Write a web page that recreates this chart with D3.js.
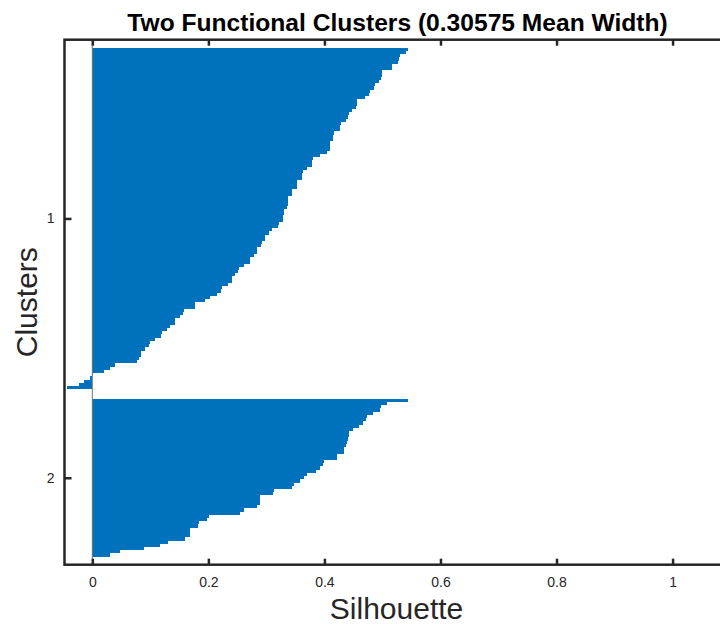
<!DOCTYPE html>
<html>
<head>
<meta charset="utf-8">
<script src="https://cdn.jsdelivr.net/npm/d3@7"></script>
<style>
  html, body { margin: 0; padding: 0; background: #fff; }
  svg { display: block; font-family: "Liberation Sans", Arial, Helvetica, sans-serif; }
</style>
</head>
<body>
<svg id="chart" width="720" height="624"></svg>
<script>
// Silhouette values per cluster, sorted from largest to smallest
const cluster1 = [
  0.544, 0.541, 0.530, 0.528, 0.526, 0.516, 0.516, 0.499, 0.499, 0.498,
  0.494, 0.4875, 0.486, 0.479, 0.476, 0.470, 0.456, 0.456, 0.455, 0.447,
  0.4415, 0.441, 0.4375, 0.428, 0.427, 0.426, 0.4157, 0.4155, 0.415, 0.410,
  0.410, 0.409, 0.404, 0.393, 0.380, 0.379, 0.378, 0.370, 0.363, 0.362,
  0.361, 0.353, 0.3525, 0.352, 0.3445, 0.344, 0.338, 0.338, 0.337, 0.3354,
  0.331, 0.331, 0.3285, 0.328, 0.321, 0.320, 0.3095, 0.304, 0.298, 0.297,
  0.292, 0.291, 0.2837, 0.283, 0.278, 0.272, 0.271, 0.2606, 0.252, 0.251,
  0.246, 0.2407, 0.240, 0.233, 0.223, 0.222, 0.2148, 0.2033, 0.1947, 0.1774,
  0.177, 0.1573, 0.157, 0.1516, 0.143, 0.142, 0.1344, 0.1286, 0.120, 0.119,
  0.1085, 0.0987, 0.098, 0.0913, 0.0844, 0.084, 0.080, 0.077, 0.0396, 0.031,
  0.0195, 0.002, -0.0046, -0.015, -0.0236, -0.0436
];
const cluster2 = [
  0.544, 0.5075, 0.497, 0.496, 0.484, 0.473, 0.472, 0.466, 0.459, 0.450,
  0.443, 0.442, 0.440, 0.439, 0.438, 0.434, 0.433, 0.4215, 0.421, 0.3986,
  0.398, 0.393, 0.385, 0.370, 0.364, 0.358, 0.347, 0.344, 0.3127, 0.312,
  0.2894, 0.289, 0.2885, 0.2837, 0.2606, 0.255, 0.2004, 0.1976, 0.183, 0.182,
  0.169, 0.1688, 0.168, 0.160, 0.1297, 0.117, 0.0896, 0.048, 0.031
];
const clusterLabels = ["1", "2"];
const xTickValues = [0, 0.2, 0.4, 0.6, 0.8, 1];
const xTickLabels = ["0", "0.2", "0.4", "0.6", "0.8", "1"];
const titleText = "Two Functional Clusters (0.30575 Mean Width)";
const xLabelText = "Silhouette";
const yLabelText = "Clusters";

const barColor = "#0072BD";
const axisColor = "#262626";

const svg = d3.select("#chart");
const box = { left: 64.5, top: 39.7, right: 730.6, bottom: 564.7 };

// Lay out rows: a few empty rows before, between and after the clusters
const clusters = [cluster1, cluster2];
const n = d3.sum(clusters, c => c.length);
const space = Math.max(Math.floor(0.02 * n), 2);
const rows = [];
const tickPos = [];
let pos = space;
clusters.forEach((vals, ci) => {
  const first = pos + 1;
  vals.forEach(v => { pos += 1; rows.push({ row: pos, value: v, cluster: ci }); });
  tickPos.push((first + pos) / 2);
  pos += space;
});
const nRows = pos;

const allValues = rows.map(r => r.value);
const x = d3.scaleLinear()
  .domain([Math.min(0, 1.1 * d3.min(allValues)), 1.1])
  .range([box.left, box.right]);
const y = d3.scaleLinear()
  .domain([1, nRows])
  .range([box.top, box.bottom]);

// Bars
svg.append("g")
  .selectAll("rect")
  .data(rows)
  .join("rect")
  .attr("x", d => x(Math.min(0, d.value)))
  .attr("width", d => Math.abs(x(d.value) - x(0)))
  .attr("y", d => y(d.row - 0.5))
  .attr("height", d => y(d.row + 0.5) - y(d.row - 0.5))
  .attr("fill", barColor)
  .attr("shape-rendering", "crispEdges");

// Bar baseline at zero
svg.append("line")
  .attr("x1", x(0)).attr("x2", x(0))
  .attr("y1", box.top).attr("y2", box.bottom)
  .attr("stroke", "#777")
  .attr("stroke-width", 1);

// Axes with inward ticks
const xAxisBottom = d3.axisBottom(x)
  .tickValues(xTickValues)
  .tickFormat((d, i) => xTickLabels[i])
  .tickSizeInner(-6).tickSizeOuter(0).tickPadding(12.4);
const gxb = svg.append("g")
  .attr("transform", `translate(0,${box.bottom})`)
  .call(xAxisBottom);

const xAxisTop = d3.axisTop(x)
  .tickValues(xTickValues)
  .tickFormat("")
  .tickSizeInner(-6).tickSizeOuter(0);
const gxt = svg.append("g")
  .attr("transform", `translate(0,${box.top})`)
  .call(xAxisTop);

const yAxisLeft = d3.axisLeft(y)
  .tickValues(tickPos)
  .tickFormat((d, i) => clusterLabels[i])
  .tickSizeInner(-7).tickSizeOuter(0).tickPadding(10);
const gyl = svg.append("g")
  .attr("transform", `translate(${box.left},0)`)
  .call(yAxisLeft);

const yAxisRight = d3.axisRight(y)
  .tickValues(tickPos)
  .tickFormat("")
  .tickSizeInner(-7).tickSizeOuter(0);
const gyr = svg.append("g")
  .attr("transform", `translate(${box.right},0)`)
  .call(yAxisRight);

[gxb, gxt, gyl, gyr].forEach(g => {
  g.select(".domain").remove();
  g.selectAll(".tick line").attr("stroke", axisColor).attr("stroke-width", 2.5);
  g.selectAll(".tick text")
    .attr("fill", axisColor)
    .style("font-size", "14px")
    .style("font-family", '"Liberation Sans", Arial, Helvetica, sans-serif');
});

// Frame
svg.append("rect")
  .attr("x", box.left).attr("y", box.top)
  .attr("width", box.right - box.left)
  .attr("height", box.bottom - box.top)
  .attr("fill", "none")
  .attr("stroke", axisColor)
  .attr("stroke-width", 2.5);

// Title and axis labels
const cx = (box.left + box.right) / 2;
svg.append("text")
  .attr("x", cx).attr("y", 31)
  .attr("text-anchor", "middle")
  .attr("fill", "#000")
  .style("font-size", "24.6px")
  .style("font-weight", "bold")
  .text(titleText);

svg.append("text")
  .attr("x", cx - 1).attr("y", 619)
  .attr("text-anchor", "middle")
  .attr("fill", axisColor)
  .style("font-size", "30px")
  .text(xLabelText);

svg.append("text")
  .attr("transform", `translate(37,${(box.top + box.bottom) / 2}) rotate(-90)`)
  .attr("text-anchor", "middle")
  .attr("fill", axisColor)
  .style("font-size", "30px")
  .text(yLabelText);
</script>
</body>
</html>
